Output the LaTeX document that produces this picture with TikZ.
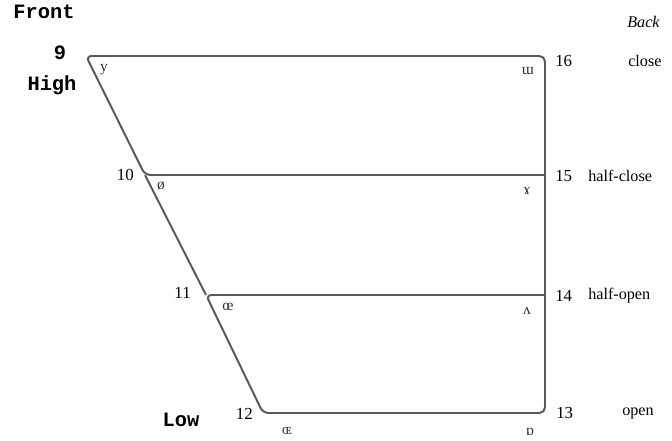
\documentclass[tikz,border=0pt]{standalone}
\usepackage{fontspec}
\setmainfont{Liberation Serif}
\newfontfamily\typefont{Liberation Mono}
\usetikzlibrary{positioning}

\begin{document}
\begin{tikzpicture}[x=0.025cm, y=-0.025cm,
  chart/.style={draw=black!65, line width=1.4pt, rounded corners=4pt},
  numlbl/.style={anchor=west, inner sep=0pt, font=\fontsize{12}{14}\selectfont},
  heightlbl/.style={anchor=west, inner sep=0pt, font=\fontsize{11.5}{14}\selectfont},
  dimlbl/.style={inner sep=0pt, font=\typefont\bfseries\fontsize{14.5}{16}\selectfont},
  vowel/.style={inner sep=0pt, font=\fontsize{11}{13}\selectfont, text=black!80},
]
\useasboundingbox (0,0) rectangle (672,441);

% corners of the chart
\coordinate (v9) at (86,56);
\coordinate (v10) at (145,175);
\coordinate (v11) at (206,295);
\coordinate (v12) at (263,413);
\coordinate (v13) at (545,413);
\coordinate (v14) at (545,295);
\coordinate (v15) at (545,175);
\coordinate (v16) at (545,56);

\draw[chart] (v15) -- (v10) -- (v9) -- (v16) -- (v13) -- (v12) -- (v11) -- (v14);
\draw[chart] (v10) -- (v11);

% front / back
\node[dimlbl] (front) at (44,12) {Front};
\node[dimlbl] (nine) at (60,53) {9};
\node[dimlbl] (high) at (52,85) {High};
\node[dimlbl] (low) at (181,420) {Low};
\node[heightlbl, font=\fontsize{11.5}{14}\selectfont\itshape] (back) at (627,22) {Back};

% numbers and heights
\node[numlbl] (n16) at (555,61) {16};
\node[heightlbl] (close) at (628,61) {close};
\node[numlbl] (n15) at (555,176) {15};
\node[heightlbl] (hclose) at (588,176) {half-close};
\node[numlbl] (n14) at (555,296) {14};
\node[heightlbl] (hopen) at (588,296) {half-open};
\node[numlbl] (n13) at (556,413) {13};
\node[heightlbl] (open) at (622,413) {open};
\node[numlbl, anchor=east] (n10) at (134,175) {10};
\node[numlbl, anchor=east] (n11) at (191,293) {11};
\node[numlbl, anchor=east] (n12) at (253,414) {12};

% vowels
\node[vowel] (y) at (104,70) {y};
\node[vowel] (ou) at (528,71) {ɯ};
\node[vowel] (oe) at (161,186) {ø};
\node[vowel] (ram) at (527,191) {ɤ};
\node[vowel] (oelig) at (228,307) {œ};
\node[vowel] (vturn) at (527,311) {ʌ};
\node[vowel] (OE) at (287,431) {ɶ};
\node[vowel] (turna) at (530,432) {ɒ};
\end{tikzpicture}
\end{document}
